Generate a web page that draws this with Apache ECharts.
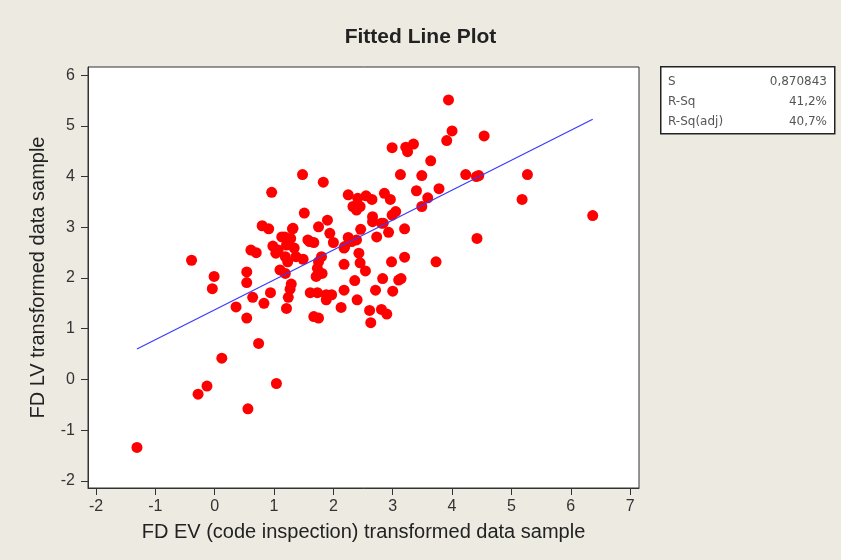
<!DOCTYPE html>
<html>
<head>
<meta charset="utf-8">
<title>Fitted Line Plot</title>
<script src="https://cdn.jsdelivr.net/npm/echarts@6/dist/echarts.min.js"></script>
<style>
  html, body { margin: 0; padding: 0; background: #edeae2; }
  #chart { width: 841px; height: 560px; }
</style>
</head>
<body>
<div id="chart"></div>
<script>
// sample points
const xValues = [
  3.94, 4.00, 3.91, 4.54, 2.99, 3.22, 3.35, 3.25, 3.64, 1.48,
  1.83, 3.13, 3.49, 4.23, 4.41, 4.45, 5.27, 0.96, 3.40, 3.78,
  5.18, 2.25, 2.41, 2.55, 2.65, 2.86, 2.96, 3.59, 2.33, 2.45,
  2.39, 3.49, 6.37, 1.51, 3.05, 2.99, 2.66, 2.66, 2.81, 1.90,
  0.80, 0.91, 1.31, 1.75, 2.46, 3.20, 2.93, 2.73, 1.94, 1.13,
  1.28, 1.57, 1.67, 2.00, 2.25, 2.31, 2.18, 0.98, 1.07, 1.21,
  1.34, 1.03, 1.19, 1.37, 1.49, 1.23, 0.61, 0.70, -0.39, 1.80,
  1.75, 2.43, 2.45, 2.98, 3.20, 3.73, 2.18, 4.42, 1.73, 1.81,
  1.71, 2.54, 1.10, 1.19, 0.54, -0.01, 0.54, 1.29, 2.36, 2.83,
  3.10, 3.14, -0.04, 1.27, 0.94, 1.61, 1.73, 1.88, 1.97, 2.18,
  2.71, 3.00, 0.64, 1.24, 1.88, 2.40, 0.36, 0.83, 1.21, 2.13,
  0.54, 1.67, 1.75, 2.61, 2.81, 2.90, 2.63, 0.74, 0.12, -0.13,
  -0.28, 1.04, 0.56, -1.31, 1.32, 1.18, 1.60, 2.39, 2.19, 2.84
];
const yValues = [
  5.51, 4.90, 4.71, 4.80, 4.57, 4.58, 4.64, 4.49, 4.31, 4.04,
  3.89, 4.04, 4.02, 4.04, 4.00, 4.02, 4.04, 3.69, 3.72, 3.76,
  3.55, 3.64, 3.57, 3.62, 3.55, 3.67, 3.55, 3.58, 3.41, 3.41,
  3.34, 3.41, 3.23, 3.28, 3.31, 3.24, 3.21, 3.11, 3.08, 3.14,
  3.03, 2.97, 2.97, 3.01, 2.96, 2.97, 2.90, 2.81, 2.88, 2.81,
  2.78, 2.75, 2.70, 2.70, 2.80, 2.72, 2.59, 2.63, 2.55, 2.65,
  2.59, 2.49, 2.42, 2.42, 2.37, 2.32, 2.55, 2.50, 2.35, 2.42,
  2.32, 2.49, 2.30, 2.32, 2.41, 2.32, 2.27, 2.78, 2.19, 2.09,
  2.03, 2.14, 2.16, 2.09, 2.12, 2.03, 1.91, 1.88, 1.95, 1.99,
  1.96, 1.99, 1.79, 1.78, 1.71, 1.71, 1.71, 1.67, 1.67, 1.76,
  1.76, 1.74, 1.62, 1.62, 1.57, 1.57, 1.43, 1.50, 1.40, 1.42,
  1.21, 1.24, 1.21, 1.36, 1.38, 1.29, 1.12, 0.71, 0.42, -0.13,
  -0.29, -0.08, -0.58, -1.34, 2.98, 2.81, 2.72, 2.75, 2.62, 3.08
];

// fitted regression line, end points
const fitX = [-1.31, 6.37];
const fitY = [0.60, 5.13];

const xTicks = [-2, -1, 0, 1, 2, 3, 4, 5, 6, 7];
const yTicks = [-2, -1, 0, 1, 2, 3, 4, 5, 6];

const statLabels = ["S", "R-Sq", "R-Sq(adj)"];
const statValues = ["0,870843", "41,2%", "40,7%"];

const font = "Liberation Sans, Arial, sans-serif";
const boxFont = "DejaVu Sans, sans-serif";

const points = xValues.map((x, i) => [x, yValues[i]]);
const fitLine = fitX.map((x, i) => [x, fitY[i]]);

const statText = [];
statLabels.forEach((label, i) => {
  statText.push({
    type: "text",
    left: 668,
    top: 76 + i * 20,
    style: { text: label, fill: "#555", font: "12px " + boxFont },
  });
  statText.push({
    type: "text",
    right: 14,
    top: 76 + i * 20,
    style: { text: statValues[i], fill: "#555", font: "12px " + boxFont, align: "right" },
  });
});

const chart = echarts.init(document.getElementById("chart"));
chart.setOption({
  backgroundColor: "#edeae2",
  animation: false,
  title: {
    text: "Fitted Line Plot",
    left: "center",
    top: 27,
    padding: 0,
    textStyle: { fontFamily: font, fontSize: 21, fontWeight: "bold", color: "#222" },
  },
  grid: {
    left: 88,
    top: 67,
    width: 551,
    height: 421,
    show: true,
    backgroundColor: "#fff",
    borderColor: "#333",
    borderWidth: 1,
  },
  xAxis: {
    type: "value",
    min: -2.135,
    max: 7.15,
    name: "FD EV (code inspection) transformed data sample",
    nameLocation: "middle",
    nameGap: 34,
    nameTextStyle: { fontFamily: font, fontSize: 20, color: "#222" },
    splitLine: { show: false },
    axisLine: { show: true, onZero: false, lineStyle: { color: "#333" } },
    axisTick: { show: true, length: 7, customValues: xTicks, lineStyle: { color: "#333" } },
    axisLabel: { customValues: xTicks, margin: 11, fontFamily: font, fontSize: 16, color: "#333" },
  },
  yAxis: {
    type: "value",
    min: -2.14,
    max: 6.16,
    name: "FD LV transformed data sample",
    nameLocation: "middle",
    nameGap: 40,
    nameTextStyle: { fontFamily: font, fontSize: 20, color: "#222" },
    splitLine: { show: false },
    axisLine: { show: true, onZero: false, lineStyle: { color: "#333" } },
    axisTick: { show: true, length: 7, customValues: yTicks, lineStyle: { color: "#333" } },
    axisLabel: { customValues: yTicks, margin: 13, fontFamily: font, fontSize: 16, color: "#333" },
  },
  series: [
    {
      type: "scatter",
      data: points,
      symbolSize: 11,
      itemStyle: { color: "#ff0000", opacity: 1 },
      z: 2,
    },
    {
      type: "line",
      data: fitLine,
      showSymbol: false,
      lineStyle: { color: "#3a3aff", width: 1.2 },
      z: 3,
    },
  ],
  graphic: [
    {
      type: "rect",
      left: 660,
      top: 66,
      shape: { width: 174, height: 67 },
      style: { fill: "#fff", stroke: "#222", lineWidth: 1.5 },
    },
    ...statText,
  ],
});
</script>
</body>
</html>
